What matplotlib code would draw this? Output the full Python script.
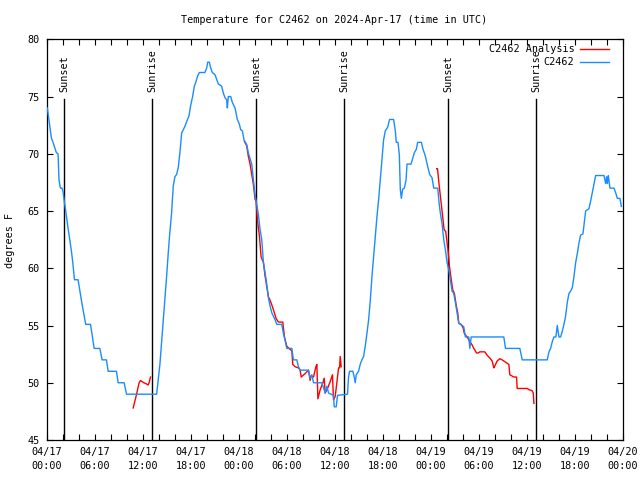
import numpy as np
import matplotlib
matplotlib.use("Agg")
import matplotlib.pyplot as plt
from matplotlib.ticker import MultipleLocator

# ---- data (hours since 2024-04-17 00:00 UTC) ----
blue_hours = [0.08, 0.33, 0.58, 0.79, 1.21, 1.42, 1.54, 1.71, 1.92, 2.04, 2.21, 2.38, 2.67, 2.88,
              3.09, 3.26, 3.47, 3.92, 4.13, 4.34, 4.59, 4.88, 5.47, 5.72, 5.93, 6.64, 6.93, 7.47,
              7.68, 8.72, 8.93, 9.68, 9.98, 13.74, 13.82, 14.02, 14.15, 14.36, 14.57, 14.78, 14.99,
              15.19, 15.40, 15.61, 15.82, 16.03, 16.24, 16.45, 16.65, 16.87, 17.07, 17.28, 17.49,
              17.78, 17.99, 18.24, 18.45, 18.66, 18.87, 19.08, 19.78, 20.00, 20.12, 20.33, 20.50,
              20.70, 21.04, 21.25, 21.45, 21.87, 22.08, 22.29, 22.50, 22.58, 22.70, 23.00, 23.20,
              23.54, 23.83, 24.08, 24.25, 24.46, 24.67, 25.00, 25.20, 25.42, 25.63, 25.84, 26.05,
              26.26, 26.46, 26.67, 26.88, 27.09, 27.30, 27.51, 27.72, 27.92, 28.14, 28.34, 28.55,
              28.76, 29.38, 29.59, 29.80, 30.01, 30.64, 30.84, 31.26, 31.47, 31.68, 32.72, 32.93,
              33.14, 33.35, 34.40, 34.81, 35.02, 35.23, 35.85, 35.94, 36.19, 36.35, 37.60, 37.73,
              37.85, 38.27, 38.44, 38.57, 38.69, 38.98, 39.19, 39.40, 39.61, 39.82, 40.03, 40.24,
              40.45, 40.66, 40.86, 41.07, 41.28, 41.49, 41.70, 41.91, 42.11, 42.32, 42.61, 42.86,
              43.36, 43.58, 43.70, 43.91, 44.08, 44.20, 44.33, 44.49, 44.70, 44.92, 45.04, 45.54,
              45.75, 45.96, 46.21, 46.37, 46.83, 47.04, 47.33, 47.62, 47.87, 48.17, 48.38, 48.88,
              49.05, 49.21, 49.42, 49.63, 49.84, 50.05, 50.25, 50.46, 50.68, 50.88, 51.09, 51.30,
              51.51, 51.72, 52.13, 52.34, 52.76, 52.89, 53.06, 57.14, 57.35, 59.14, 59.44, 62.57,
              62.78, 62.99, 63.20, 63.40, 63.65, 63.82, 64.03, 64.24, 64.45, 64.65, 64.86, 65.07,
              65.28, 65.49, 65.70, 65.91, 66.12, 66.33, 66.53, 66.74, 67.03, 67.24, 67.37, 67.78,
              68.00, 68.20, 68.41, 68.62, 69.66, 69.87, 70.00, 70.08, 70.20, 70.41, 70.91, 71.12,
              71.33, 71.66, 71.83]
blue_temps = [74.0, 72.7, 71.4, 71.0, 70.1, 70.0, 67.7, 67.0, 67.0, 66.7, 65.8, 65.0, 63.5, 62.5,
              61.5, 60.5, 59.0, 59.0, 58.1, 57.2, 56.2, 55.1, 55.1, 54.0, 53.0, 53.0, 52.0, 52.0,
              51.0, 51.0, 50.0, 50.0, 49.0, 49.0, 49.5, 50.7, 51.6, 53.5, 55.3, 57.4, 59.3,
              61.3, 63.2, 64.8, 67.2, 68.0, 68.2, 68.8, 70.1, 71.8, 72.1, 72.4, 72.8,
              73.3, 74.2, 75.0, 75.9, 76.3, 76.8, 77.1, 77.1, 77.5, 78.0, 78.0, 77.5,
              77.1, 76.9, 76.5, 76.1, 75.9, 75.3, 74.9, 74.7, 74.0, 75.0, 75.0, 74.5,
              74.0, 73.0, 72.6, 72.1, 72.0, 71.2, 70.8, 70.1, 69.6, 69.1, 67.7, 66.4,
              65.5, 64.7, 63.4, 62.5, 60.5, 59.6, 58.6, 57.4, 56.7, 56.1, 55.8, 55.5,
              55.1, 55.1, 54.3, 53.7, 53.0, 53.0, 52.0, 52.0, 51.4, 51.1, 51.1, 50.4,
              50.7, 50.0, 50.0, 49.1, 49.7, 49.1, 48.9, 47.9, 47.9, 48.9, 49.0, 50.5,
              51.0, 51.0, 50.5, 50.0, 50.7, 51.0, 51.6, 52.0, 52.3, 53.2, 54.3, 55.5,
              57.2, 59.3, 61.0, 62.8, 64.5, 66.0, 67.7, 69.5, 71.2, 72.0, 72.3, 73.0,
              73.0, 72.0, 71.0, 71.0, 69.9, 66.9, 66.1, 66.9, 67.0, 67.7, 69.1, 69.1,
              69.6, 70.1, 70.4, 71.0, 71.0, 70.4, 69.8, 68.9, 68.2, 67.9, 67.0, 67.0,
              65.7, 64.8, 63.9, 62.5, 61.6, 60.5, 59.9, 59.0, 58.0, 57.8, 57.0, 56.1,
              55.2, 55.1, 54.9, 54.0, 54.0, 53.0, 54.0, 54.0, 53.0, 53.0, 52.0, 52.0,
              52.7, 53.0, 53.6, 54.0, 54.0, 55.0, 54.0, 54.0, 54.5, 55.1, 55.8, 57.0,
              57.8, 58.0, 58.3, 59.3, 60.5, 61.3, 62.2, 62.9, 63.0, 64.2, 65.0, 65.2,
              65.9, 66.6, 67.3, 68.1, 68.1, 67.4, 68.0, 67.4, 68.1, 67.0, 67.0, 66.6,
              66.1, 66.1, 65.4]

# analysis series: three separate runs (NaN breaks the line)
red_hours = [10.81, 11.20, 11.55, 11.73, 12.14, 12.47, 12.67, 12.80, 12.90, 12.98, np.nan,
             24.71, 25.00, 25.20, 25.42, 25.63, 25.84, 26.05, 26.17, 26.34, 26.59, 26.80, 27.09,
             27.30, 27.51, 27.72, 27.92, 28.14, 28.42, 28.68, 28.97, 29.51, 29.72, 30.01, 30.43,
             30.64, 30.76, 31.05, 31.47, 31.68, 31.81, 32.31, 32.72, 32.93, 33.06, 33.35, 33.65,
             33.77, 33.90, 34.19, 34.52, 34.69, 34.81, 35.10, 35.44, 35.72, 35.85, 36.06, 36.27,
             36.48, 36.61, 36.69, 36.81, np.nan,
             48.75, 48.85, 49.05, 49.21, 49.34, 49.50, 49.67, 49.88, 50.05, 50.21, 50.34, 50.55,
             50.76, 50.96, 51.18, 51.38, 51.51, 51.80, 52.05, 52.21, 52.55, 52.89, 53.18, 53.39,
             53.73, 53.93, 54.14, 54.43, 54.76, 55.06, 55.47, 55.68, 55.89, 55.97, 56.31, 56.64,
             56.93, 57.35, 57.77, 57.89, 58.39, 58.73, 58.81, 60.06, 60.27, 60.69, 60.82, 60.90]
red_temps = [47.8, 48.9, 50.0, 50.2, 50.0, 49.9, 49.8, 50.0, 50.3, 50.5, np.nan,
             71.1, 70.7, 69.8, 69.1, 68.2, 67.3, 66.0, 65.9, 64.2, 62.8, 61.0, 60.5,
             59.3, 58.4, 57.5, 57.2, 56.8, 56.2, 55.6, 55.3, 55.3, 54.0, 53.2, 52.9,
             52.8, 51.6, 51.4, 51.3, 51.1, 50.5, 50.8, 51.1, 50.2, 50.6, 50.5, 51.4,
             51.6, 48.6, 49.4, 50.0, 50.4, 49.1, 49.5, 50.1, 50.7, 48.5, 48.8, 50.0,
             51.3, 51.3, 52.3, 51.4, np.nan,
             68.7, 68.7, 67.3, 66.3, 65.5, 64.5, 63.4, 63.2, 62.2, 61.3, 60.2, 59.1,
             58.1, 57.8, 56.8, 56.1, 55.2, 55.1, 54.8, 54.3, 54.0, 53.6, 53.3, 53.0,
             52.6, 52.6, 52.7, 52.7, 52.7, 52.4, 52.1, 51.9, 51.3, 51.4, 51.9, 52.1,
             52.0, 51.8, 51.6, 50.7, 50.5, 50.5, 49.5, 49.5, 49.4, 49.3, 49.1, 48.2]

sun_hours = [2.17, 13.18, 26.20, 37.20, 50.15, 61.18]
sun_labels = ["Sunset", "Sunrise", "Sunset", "Sunrise", "Sunset", "Sunrise"]

xtick_hours = [0, 6, 12, 18, 24, 30, 36, 42, 48, 54, 60, 66, 72]
xtick_labels = ["04/17\n00:00", "04/17\n06:00", "04/17\n12:00", "04/17\n18:00",
                "04/18\n00:00", "04/18\n06:00", "04/18\n12:00", "04/18\n18:00",
                "04/19\n00:00", "04/19\n06:00", "04/19\n12:00", "04/19\n18:00",
                "04/20\n00:00"]
ytick_values = [45, 50, 55, 60, 65, 70, 75, 80]

series_names = ["C2462 Analysis", "C2462"]
series_colors = ["#ff0000", "#1a8cff"]

# ---- figure ----
plt.rcParams['font.family'] = ['DejaVu Sans Mono']
FS = 7.3

fig = plt.figure(figsize=(6.4, 4.8), dpi=100)
ax = fig.add_axes([46.7 / 640, 40 / 480, 576 / 640, 400.7 / 480])

ax.plot(red_hours, red_temps, color=series_colors[0], lw=1.0, zorder=2)
ax.plot(blue_hours, blue_temps, color=series_colors[1], lw=1.0, zorder=3)

for h, lab in zip(sun_hours, sun_labels):
    ax.axvline(h, ymin=0, ymax=0.851, color="black", lw=1.0, zorder=1)
    ax.text(h, 0.868, lab, transform=ax.get_xaxis_transform(), rotation=90,
            ha="center", va="bottom", fontsize=FS)

ax.set_xlim(0, 72)
ax.set_ylim(45, 80)
ax.set_xticks(xtick_hours)
ax.set_xticklabels(xtick_labels, fontsize=FS, linespacing=1.5)
ax.xaxis.set_minor_locator(MultipleLocator(2))
ax.set_yticks(ytick_values)
ax.set_yticklabels([str(v) for v in ytick_values], fontsize=FS)
ax.tick_params(axis="both", which="both", direction="in", length=4, width=0.8,
               top=True, right=True)
ax.tick_params(axis="x", which="major", pad=5)
ax.tick_params(axis="y", which="major", pad=5)
for s in ax.spines.values():
    s.set_linewidth(0.9)

fig.text(334.5 / 640, 1 - 20 / 480, "Temperature for C2462 on 2024-Apr-17 (time in UTC)",
         ha="center", va="center", fontsize=FS)
fig.text(10 / 640, 0.5, "degrees F", rotation=90, ha="center", va="center", fontsize=FS)

# gnuplot-style key: right-aligned text with line sample to its right
key_y = [0.975, 0.9426]
for name, col, yk in zip(series_names, series_colors, key_y):
    ax.text(0.916, yk, name, transform=ax.transAxes, ha="right", va="center", fontsize=FS)
    ax.plot([0.9266, 0.977], [yk, yk], transform=ax.transAxes, color=col, lw=1.0,
            clip_on=False)

fig.savefig("out.png", dpi=100)
